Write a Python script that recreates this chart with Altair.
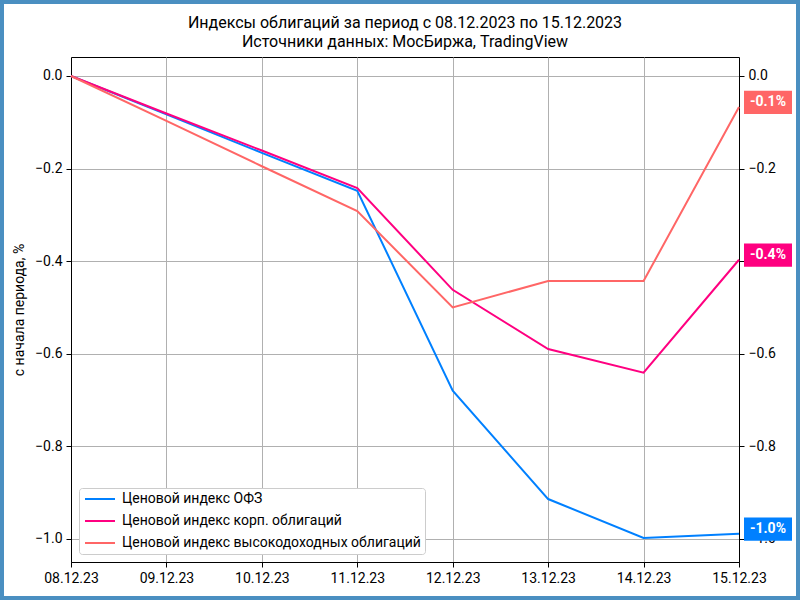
import altair as alt
import pandas as pd

dates = ["08.12.23", "09.12.23", "10.12.23", "11.12.23", "12.12.23", "13.12.23", "14.12.23", "15.12.23"]
ofz = [0.0, -0.083, -0.166, -0.248, -0.680, -0.914, -0.998, -0.989]
corp = [0.0, -0.081, -0.161, -0.242, -0.462, -0.590, -0.641, -0.397]
hy = [0.0, -0.097, -0.195, -0.292, -0.500, -0.443, -0.443, -0.067]

names = ["Ценовой индекс ОФЗ", "Ценовой индекс корп. облигаций", "Ценовой индекс высокодоходных облигаций"]
colors = ["#0080FF", "#FF0080", "#FF6666"]
series = [ofz, corp, hy]

rows = []
for n, s in zip(names, series):
    for i, (d, v) in enumerate(zip(dates, s)):
        rows.append({"date": d, "value": v, "series": n, "order": i})
df = pd.DataFrame(rows)

lab = pd.DataFrame({
    "series": names,
    "end": [s[-1] for s in series],
    "label": [f"{s[-1]:.1f}%" for s in series],
    "color": colors,
})

W, H = 668, 505
YDOM = [-1.05, 0.041]
yticks = [-1.0, -0.8, -0.6, -0.4, -0.2, 0.0]

border = alt.Chart(pd.DataFrame({"a": [0]})).mark_rect(
    fill="transparent", stroke="#4A8FC1", strokeWidth=8
).encode(
    x=alt.value(-71), x2=alt.value(729), y=alt.value(-57), y2=alt.value(543)
)

lines = alt.Chart(df).mark_line(strokeWidth=2).encode(
    x=alt.X("date:O", sort=dates, scale=alt.Scale(type="point", padding=0),
            axis=alt.Axis(title=None, labelAngle=0, grid=True, gridColor="#b0b0b0",
                          tickSize=5, tickColor="black", domainColor="black",
                          labelFontSize=14, labelColor="black", labelPadding=4)),
    y=alt.Y("value:Q", scale=alt.Scale(domain=YDOM, nice=False, zero=False),
            axis=alt.Axis(title="с начала периода, %", values=yticks, format=".1f",
                          grid=True, gridColor="#b0b0b0", tickSize=5, tickColor="black",
                          domainColor="black", labelFontSize=14, labelColor="black",
                          labelPadding=4, titleFontSize=14, titleFontWeight="normal",
                          titleColor="black", titlePadding=8)),
    color=alt.Color("series:N", sort=names,
                    scale=alt.Scale(domain=names, range=colors),
                    legend=alt.Legend(title=None, orient="bottom-left", offset=8,
                                      padding=4, fillColor="white", strokeColor="#cccccc",
                                      cornerRadius=3, labelFontSize=14, labelColor="black",
                                      symbolType="M-1,0L5,0", symbolSize=100,
                                      symbolStrokeWidth=2, labelOffset=25, rowPadding=8,
                                      labelLimit=400)),
    detail="series:N",
    order="order:Q",
)

boxes = alt.Chart(lab).transform_calculate(
    lo="datum.end - 0.015", hi="datum.end + 0.035"
).mark_rect().encode(
    x=alt.value(673), x2=alt.value(721),
    y=alt.Y("lo:Q", scale=alt.Scale(domain=YDOM, nice=False, zero=False),
            axis=alt.Axis(orient="right", title=None, values=yticks, format=".1f",
                          grid=False, tickSize=5, tickColor="black", domainColor="black",
                          labelFontSize=14, labelColor="black", labelPadding=4)),
    y2="hi:Q",
    fill=alt.Fill("color:N", scale=None, legend=None),
)

texts = alt.Chart(lab).transform_calculate(
    mid="datum.end + 0.01"
).mark_text(color="white", fontWeight="bold", fontSize=14, align="center", baseline="middle").encode(
    x=alt.value(697),
    y=alt.Y("mid:Q", scale=alt.Scale(domain=YDOM, nice=False, zero=False), axis=None),
    text="label:N",
)

chart = alt.layer(lines, boxes, texts, border).resolve_scale(y="independent").properties(
    width=W, height=H,
    title=alt.Title(["Индексы облигаций за период с 08.12.2023 по 15.12.2023",
                     "Источники данных: МосБиржа, TradingView"],
                    fontSize=16, fontWeight="normal", color="black", offset=0, lineHeight=19,
                    anchor="middle", frame="group", dy=54),
    autosize=alt.AutoSizeParams(type="none"),
    padding={"left": 71, "top": 57, "right": 61, "bottom": 38},
).configure(
    font="Roboto", background="white"
).configure_view(stroke="black", strokeWidth=1)

chart.save("out.html", embed_options={"renderer": "svg", "actions": False})
